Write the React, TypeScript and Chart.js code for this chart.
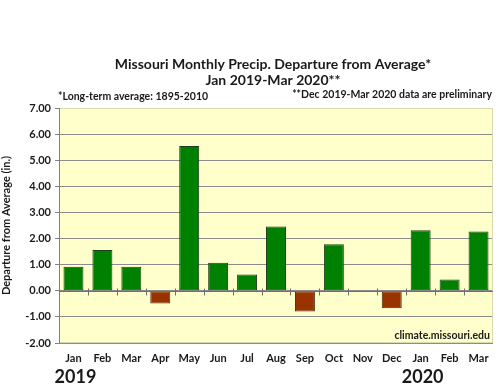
import React, { useEffect, useRef } from "react";
import { Chart, registerables } from "chart.js";

Chart.register(...registerables);

const months = ["Jan", "Feb", "Mar", "Apr", "May", "Jun", "Jul", "Aug", "Sep", "Oct", "Nov", "Dec", "Jan", "Feb", "Mar"];
const departures = [0.92, 1.56, 0.92, -0.49, 5.54, 1.07, 0.62, 2.46, -0.79, 1.78, -0.04, -0.67, 2.32, 0.43, 2.27];
const yearLabels = [
  { index: 0, text: "2019" },
  { index: 12, text: "2020" },
];
const titleLines = ["Missouri Monthly Precip. Departure from Average*", "Jan 2019-Mar 2020**"];
const noteLeft = "*Long-term average: 1895-2010";
const noteRight = "**Dec 2019-Mar 2020 data are preliminary";
const sourceText = "climate.missouri.edu";
const yTitle = "Departure from Average (in.)";

const FONT = "Lato, 'Open Sans', sans-serif";

const decorPlugin = {
  id: "decor",
  beforeDraw(chart: any) {
    const { ctx, chartArea } = chart;
    ctx.save();
    ctx.fillStyle = "#ffffff";
    ctx.fillRect(0, 0, chart.width, chart.height);
    ctx.fillStyle = "#ffffcc";
    ctx.fillRect(chartArea.left, chartArea.top, chartArea.right - chartArea.left, chartArea.bottom - chartArea.top);
    ctx.restore();
  },
  afterDraw(chart: any) {
    const { ctx, chartArea, scales } = chart;
    const x = scales.x;
    const y = scales.y;
    ctx.save();
    ctx.strokeStyle = "#d9d9b0";
    ctx.lineWidth = 1;
    ctx.strokeRect(chartArea.left + 0.5, chartArea.top + 0.5, chartArea.right - chartArea.left - 1, chartArea.bottom - chartArea.top - 1);
    ctx.strokeStyle = "#808080";
    ctx.beginPath();
    ctx.moveTo(chartArea.left + 0.5, chartArea.top);
    ctx.lineTo(chartArea.left + 0.5, chartArea.bottom);
    ctx.stroke();
    const y0 = Math.round(y.getPixelForValue(0)) + 0.5;
    ctx.strokeStyle = "#707070";
    ctx.beginPath();
    ctx.moveTo(chartArea.left, y0);
    ctx.lineTo(chartArea.right, y0);
    for (let i = 1; i < months.length; i++) {
      const px = Math.round((x.getPixelForValue(i - 1) + x.getPixelForValue(i)) / 2) + 0.5;
      ctx.moveTo(px, y0 - 3);
      ctx.lineTo(px, y0 + 4);
    }
    ctx.stroke();

    ctx.fillStyle = "#1a1a1a";
    ctx.textAlign = "center";
    ctx.textBaseline = "middle";
    ctx.font = `bold 14px ${FONT}`;
    ctx.fillText(titleLines[0], 273, 64);
    ctx.fillText(titleLines[1], 273, 80);

    ctx.font = `bold 10.5px ${FONT}`;
    ctx.textAlign = "left";
    ctx.fillText(noteLeft, 58, 97);
    ctx.textAlign = "right";
    ctx.fillText(noteRight, 492, 95);
    ctx.fillText(sourceText, chartArea.right - 3, 336);

    ctx.font = `bold 18px ${FONT}`;
    ctx.textAlign = "center";
    for (const yl of yearLabels) {
      ctx.fillText(yl.text, x.getPixelForValue(yl.index) + 2, 377);
    }
    ctx.restore();
  },
};

export default function App() {
  const ref = useRef<HTMLCanvasElement | null>(null);
  useEffect(() => {
    document.body.style.margin = "0";
    const canvas = ref.current;
    if (!canvas) return;
    const chart = new Chart(canvas, {
      type: "bar",
      data: {
        labels: months,
        datasets: [
          {
            data: departures,
            backgroundColor: departures.map((v) => (v >= 0 ? "#008000" : "#993300")),
            borderColor: departures.map((v) => (v >= 0 ? "#1e3d1e" : "#4a2a1a")),
            borderWidth: 1,
            borderSkipped: false,
            barPercentage: 0.69,
            categoryPercentage: 1,
          },
        ],
      },
      options: {
        animation: false,
        responsive: false,
        maintainAspectRatio: false,
        layout: { padding: { top: 108, left: 0, right: 7, bottom: 0 } },
        plugins: {
          legend: { display: false },
          tooltip: { enabled: false },
          title: { display: false },
        },
        scales: {
          x: {
            grid: { display: false, drawTicks: false },
            border: { display: false },
            ticks: {
              color: "#1a1a1a",
              font: { family: FONT, size: 11, weight: "bold" },
              padding: 9,
              maxRotation: 0,
              autoSkip: false,
            },
            afterFit(scale: any) {
              scale.height = 46;
            },
          },
          y: {
            min: -2,
            max: 7,
            grid: {
              color: "#8c8c8c",
              tickLength: 4,
              tickColor: "#808080",
              drawTicks: true,
            },
            border: { display: false },
            ticks: {
              stepSize: 1,
              color: "#1a1a1a",
              font: { family: FONT, size: 11, weight: "bold" },
              padding: 4,
              callback: (v: any) => Number(v).toFixed(2),
            },
            title: {
              display: true,
              text: yTitle,
              color: "#1a1a1a",
              font: { family: FONT, size: 11, weight: "bold" },
              padding: { top: 0, bottom: 2 },
            },
            afterFit(scale: any) {
              scale.width = 59;
            },
          },
        },
      },
      plugins: [decorPlugin],
    });
    return () => chart.destroy();
  }, []);
  return <canvas ref={ref} width={500} height={389} style={{ display: "block" }} />;
}
